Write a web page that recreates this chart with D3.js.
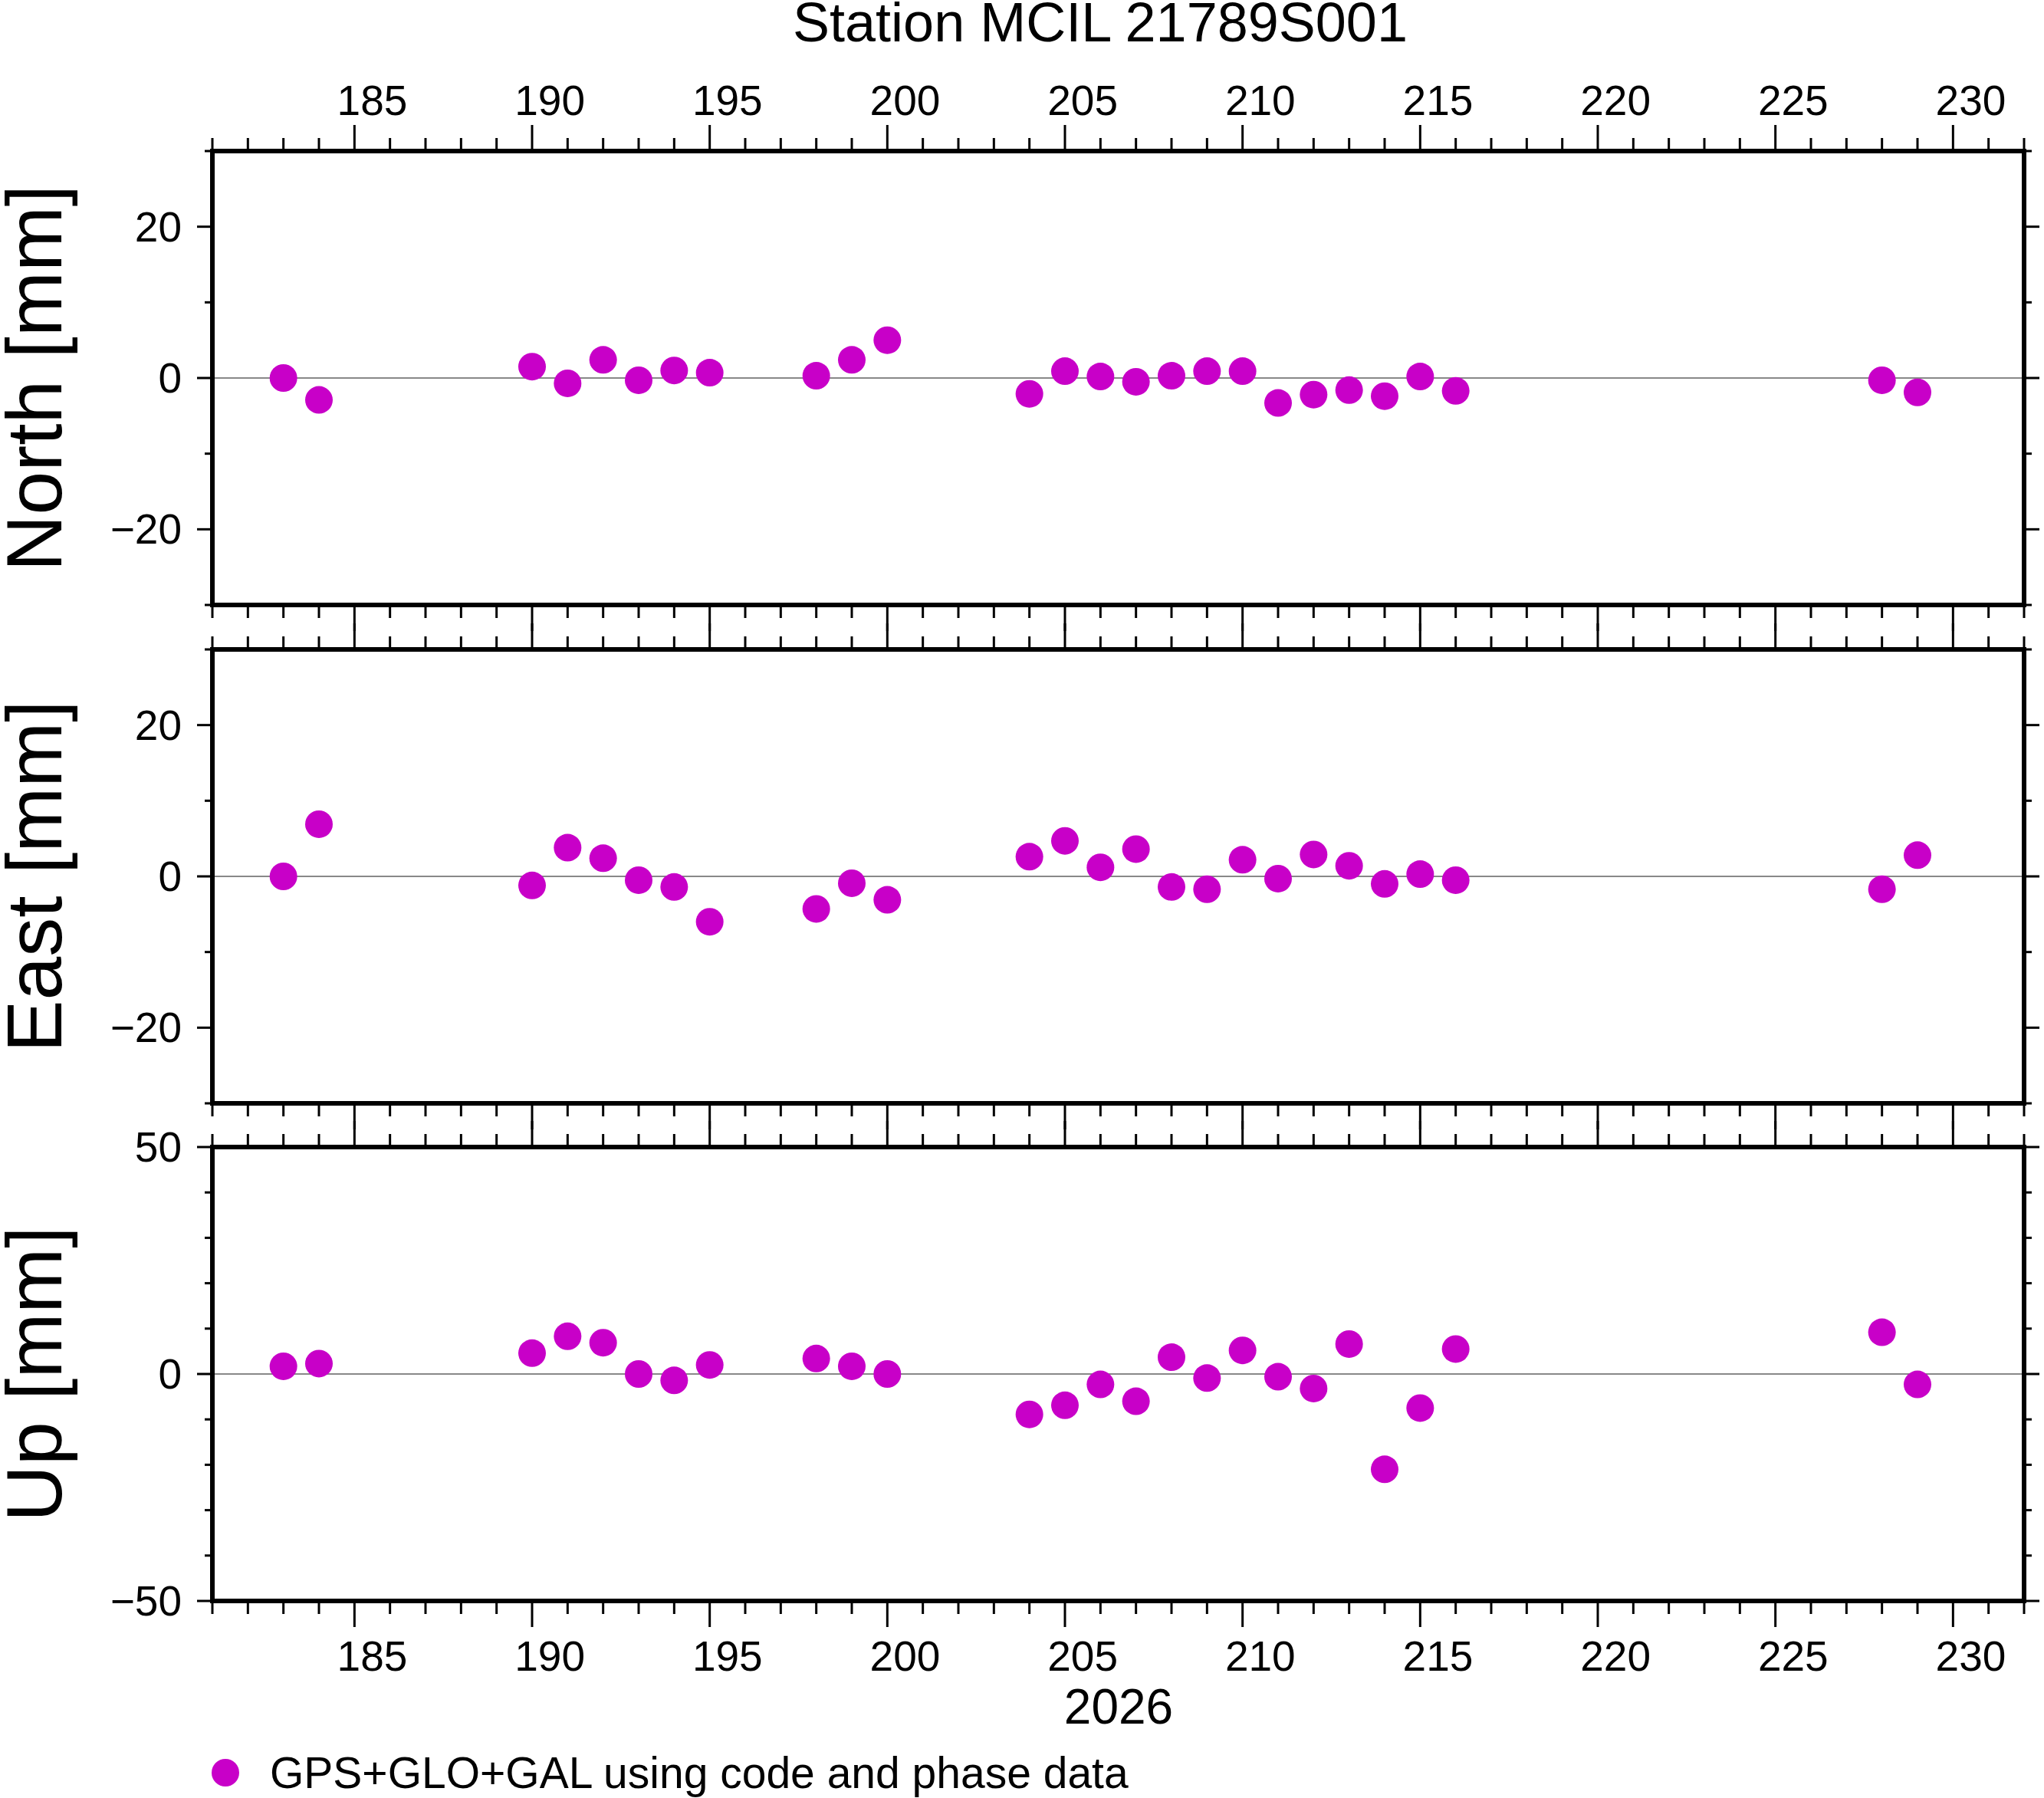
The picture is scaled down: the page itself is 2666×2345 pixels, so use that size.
<!DOCTYPE html>
<html><head><meta charset="utf-8">
<script src="https://cdn.jsdelivr.net/npm/d3@7"></script>
<style>body{margin:0;background:#fff}text{font-family:"Liberation Sans",Arial,sans-serif}</style>
</head><body><script>
const days=[183,184,190,191,192,193,194,195,198,199,200,204,205,206,207,208,209,210,211,212,213,214,215,216,228,229];
const north=[0,-2.9,1.5,-0.7,2.4,-0.3,1.0,0.7,0.3,2.4,5.0,-2.1,0.9,0.2,-0.5,0.3,0.9,0.9,-3.3,-2.2,-1.6,-2.4,0.2,-1.7,-0.3,-1.9];
const east=[0,6.9,-1.2,3.8,2.4,-0.5,-1.4,-6.0,-4.3,-0.9,-3.1,2.6,4.7,1.2,3.6,-1.4,-1.7,2.2,-0.3,2.9,1.4,-1.0,0.3,-0.5,-1.7,2.8];
const up=[1.7,2.3,4.6,8.3,6.9,0,-1.4,2.0,3.4,1.7,0,-8.9,-6.9,-2.3,-6.0,3.7,-0.9,5.2,-0.6,-3.2,6.6,-21,-7.5,5.5,9.2,-2.3];
const xTickLabels=[185,190,195,200,205,210,215,220,225,230];
const panels=[
 {name:"North [mm]",vals:north,dom:[-30,30],major:[-20,0,20],minor:d3.range(-30,31,10)},
 {name:"East [mm]",vals:east,dom:[-30,30],major:[-20,0,20],minor:d3.range(-30,31,10)},
 {name:"Up [mm]",vals:up,dom:[-50,50],major:[-50,0,50],minor:d3.range(-50,51,10)}];
const W=2666,H=2345,L=277,R=2640;
const tops=[197,847,1496],ph=592;
const col="#c800c8";
const svg=d3.select("body").append("svg").attr("width",W).attr("height",H);
const x=d3.scaleLinear().domain([181,232]).range([L,R]);
const fmt=v=>v<0?"\u2212"+(-v):""+v;
svg.append("text").attr("x",1435).attr("y",54).attr("text-anchor","middle").attr("font-size",72).text("Station MCIL 21789S001");
panels.forEach((p,i)=>{
  const t=tops[i],b=t+ph;
  const y=d3.scaleLinear().domain(p.dom).range([b,t]);
  const g=svg.append("g");
  g.append("line").attr("x1",L).attr("x2",R).attr("y1",y(0)).attr("y2",y(0)).attr("stroke","#888").attr("stroke-width",2);
  [t,b].forEach((yy,k)=>{
    const dir=k==0?-1:1;
    d3.range(181,233).forEach(d=>{
      const len=d%5==0?34:17;
      g.append("line").attr("x1",x(d)).attr("x2",x(d)).attr("y1",yy).attr("y2",yy+dir*len).attr("stroke","#000").attr("stroke-width",3);
    });
  });
  p.minor.forEach(v=>{
    const len=p.major.includes(v)?20:10;
    g.append("line").attr("x1",L).attr("x2",L-len).attr("y1",y(v)).attr("y2",y(v)).attr("stroke","#000").attr("stroke-width",3);
    g.append("line").attr("x1",R).attr("x2",R+len).attr("y1",y(v)).attr("y2",y(v)).attr("stroke","#000").attr("stroke-width",3);
  });
  p.major.forEach(v=>g.append("text").attr("x",L-40).attr("y",y(v)+19).attr("text-anchor","end").attr("font-size",55).text(fmt(v)));
  g.append("text").attr("transform",`translate(80,${t+ph/2}) rotate(-90)`).attr("text-anchor","middle").attr("font-size",102).text(p.name);
  g.selectAll("circle").data(days).join("circle").attr("cx",d=>x(d)).attr("cy",(d,j)=>y(p.vals[j])).attr("r",18).attr("fill",col);
  g.append("rect").attr("x",L).attr("y",t).attr("width",R-L).attr("height",ph).attr("fill","none").attr("stroke","#000").attr("stroke-width",6);
});
xTickLabels.forEach(d=>{
  svg.append("text").attr("x",x(d+0.5)).attr("y",150).attr("text-anchor","middle").attr("font-size",55).text(d);
  svg.append("text").attr("x",x(d+0.5)).attr("y",2179).attr("text-anchor","middle").attr("font-size",55).text(d);
});
svg.append("text").attr("x",1459).attr("y",2248).attr("text-anchor","middle").attr("font-size",64).text("2026");
svg.append("circle").attr("cx",294).attr("cy",2312).attr("r",18).attr("fill",col);
svg.append("text").attr("x",352).attr("y",2332).attr("font-size",57).text("GPS+GLO+GAL using code and phase data");
</script></body></html>
